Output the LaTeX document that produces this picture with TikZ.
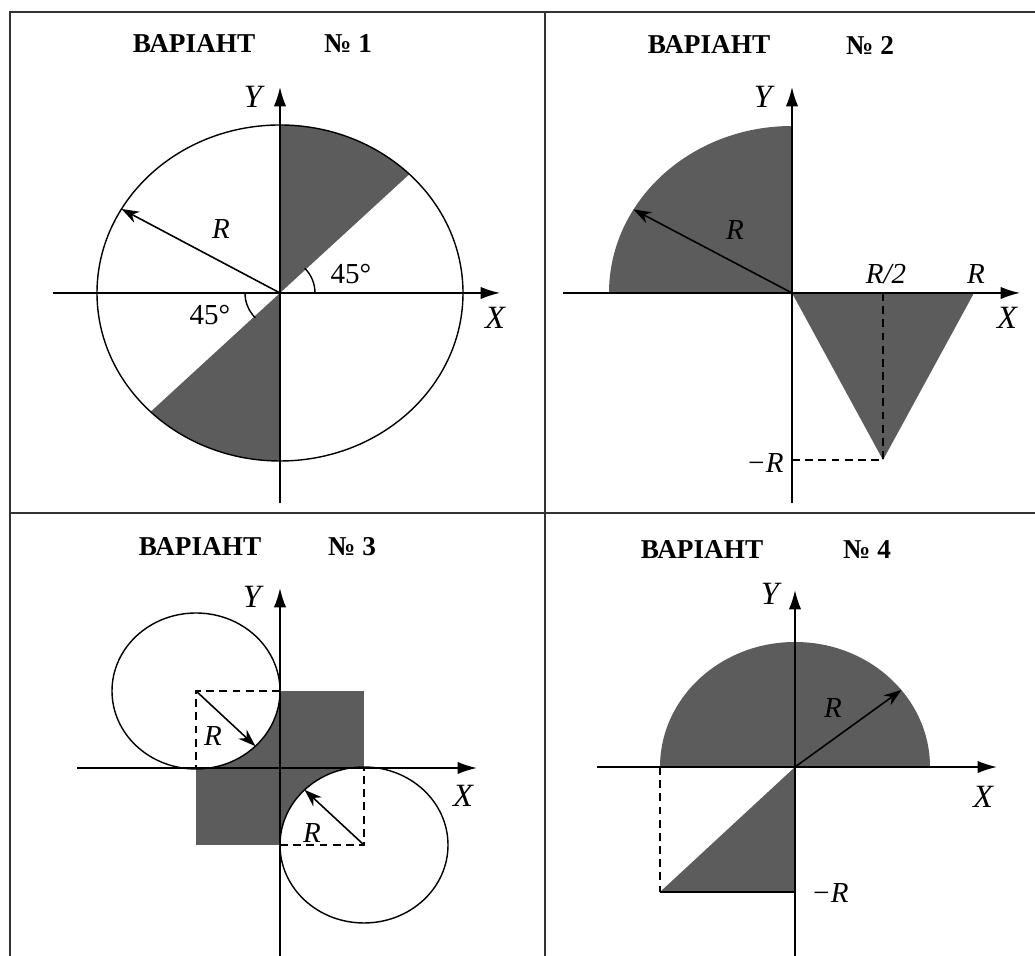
\documentclass[tikz,border=0pt]{standalone}
\usepackage{fontspec}
\setmainfont{Liberation Serif}
\usetikzlibrary{arrows.meta}
\definecolor{shadegray}{RGB}{92,92,92}

\begin{document}
\begin{tikzpicture}[
  x=0.02cm, y=0.02cm,
  frameLine/.style={draw=black!80, line width=1.3pt},
  axisLine/.style={draw, line width=0.9pt, -{Latex[length=11pt,width=7pt]}},
  outline/.style={draw, line width=0.8pt},
  shadeFill/.style={fill=shadegray},
  radiusArrow/.style={draw, line width=0.9pt, -{Stealth[length=10pt,width=7pt]}},
  helpLine/.style={draw, line width=0.8pt, dash pattern=on 4.5pt off 3pt},
  titleText/.style={font=\fontsize{15.5}{18}\selectfont\bfseries, inner sep=0pt},
  axisLabel/.style={font=\fontsize{18.5}{21}\selectfont\itshape, inner sep=0pt},
  dimLabel/.style={font=\fontsize{16.5}{19}\selectfont\itshape, inner sep=0pt}
]
  \useasboundingbox (0,0) rectangle (1035,956);

  % table lines
  \draw[frameLine] (1040,944) -- (10,944) -- (10,-5);
  \draw[frameLine] (545,944) -- (545,-5);
  \draw[frameLine] (10,443) -- (1040,443);

  % titles
  \node[titleText] (var1) at (194,912) {ВАРІАНТ};
  \node[titleText] (num1) at (348,912) {№ 1};
  \node[titleText] (var2) at (709,911) {ВАРІАНТ};
  \node[titleText] (num2) at (870,911) {№ 2};
  \node[titleText] (var3) at (200,409) {ВАРІАНТ};
  \node[titleText] (num3) at (352,409) {№ 3};
  \node[titleText] (var4) at (702,406) {ВАРІАНТ};
  \node[titleText] (num4) at (867,406) {№ 4};

  % variant 1
  \begin{scope}[shift={(280,663)}]
    \fill[shadeFill] (0,0) -- (0,168) arc[start angle=90, end angle=45, x radius=183, y radius=168] -- cycle;
    \fill[shadeFill] (0,0) -- (0,-168) arc[start angle=270, end angle=225, x radius=183, y radius=168] -- cycle;
    \draw[outline] (0,0) ellipse [x radius=183, y radius=168];
    \draw[outline] (35,0) arc[start angle=0, end angle=45, radius=35];
    \draw[outline] (-35,0) arc[start angle=180, end angle=225, radius=35];
    \draw[radiusArrow] (0,0) -- (150:183 and 168);
    \draw[axisLine] (-227,0) -- (220,0);
    \draw[axisLine] (0,-210) -- (0,206);
    \node[axisLabel] (x1) at (215,-25) {X};
    \node[axisLabel] (y1) at (-27,196) {Y};
    \node[dimLabel] (r1) at (-59,64) {R};
    \node[font=\fontsize{16.5}{19}\selectfont, inner sep=0pt] (a1) at (71,19) {45°};
    \node[font=\fontsize{16.5}{19}\selectfont, inner sep=0pt] (a2) at (-70,-22) {45°};
  \end{scope}

  % variant 2
  \begin{scope}[shift={(792,663)}]
    \fill[shadeFill] (0,0) -- (-183,0) arc[start angle=180, end angle=90, x radius=183, y radius=167] -- cycle;
    \fill[shadeFill] (0,0) -- (182,0) -- (91,-167) -- cycle;
    \draw[helpLine] (91,0) -- (91,-167);
    \draw[helpLine] (0,-167) -- (91,-167);
    \draw[radiusArrow] (0,0) -- (150:183 and 167);
    \draw[axisLine] (-229,0) -- (228,0);
    \draw[axisLine] (0,-210) -- (0,206);
    \node[axisLabel] (x2) at (215,-25) {X};
    \node[axisLabel] (y2) at (-29,196) {Y};
    \node[dimLabel] (r2) at (-57,63) {R};
    \node[dimLabel] (rhalf2) at (94,19) {R/2};
    \node[dimLabel] (rfull2) at (184,19) {R};
    \node[dimLabel] (rneg2) at (-27,-170) {−R};
  \end{scope}

  % variant 3
  \begin{scope}[shift={(280,188)}]
    \fill[shadeFill] (-84,-77) rectangle (84,77);
    \fill[white] (-84,77) ellipse [x radius=84, y radius=78];
    \fill[white] (84,-77) ellipse [x radius=84, y radius=78];
    \draw[outline] (-84,77) ellipse [x radius=84, y radius=78];
    \draw[outline] (84,-77) ellipse [x radius=84, y radius=78];
    \draw[helpLine] (0,77) -- (-84,77) -- (-84,0);
    \draw[helpLine] (0,-77) -- (84,-77) -- (84,0);
    \draw[radiusArrow] (-84,77) -- +(-45:84 and 78);
    \draw[radiusArrow] (84,-77) -- +(135:84 and 78);
    \draw[axisLine] (-203,0) -- (197,0);
    \draw[axisLine] (0,-192) -- (0,180);
    \node[axisLabel] (x3) at (183,-28) {X};
    \node[axisLabel] (y3) at (-28,171) {Y};
    \node[dimLabel] (r3a) at (-67,32) {R};
    \node[dimLabel] (r3b) at (32,-65) {R};
  \end{scope}

  % variant 4
  \begin{scope}[shift={(795,189)}]
    \fill[shadeFill] (-135,0) arc[start angle=180, end angle=0, x radius=135, y radius=125] -- cycle;
    \fill[shadeFill] (0,0) -- (-135,-125) -- (0,-125) -- cycle;
    \draw[outline] (-135,-125) -- (0,-125);
    \draw[helpLine] (-135,0) -- (-135,-125);
    \draw[radiusArrow] (0,0) -- (38:135 and 125);
    \draw[axisLine] (-198,0) -- (202,0);
    \draw[axisLine] (0,-193) -- (0,177);
    \node[axisLabel] (x4) at (188,-30) {X};
    \node[axisLabel] (y4) at (-25,173) {Y};
    \node[dimLabel] (r4) at (38,59) {R};
    \node[dimLabel] (rneg4) at (35,-126) {−R};
  \end{scope}
\end{tikzpicture}
\end{document}
